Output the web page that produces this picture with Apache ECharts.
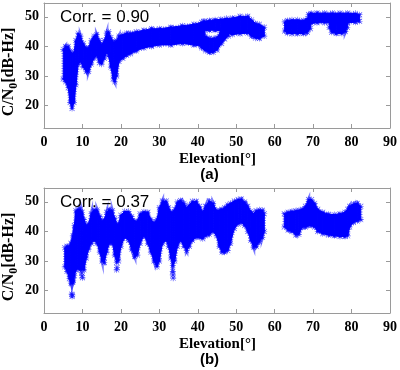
<!DOCTYPE html>
<html><head><meta charset="utf-8">
<script src="https://cdn.jsdelivr.net/npm/echarts@6/dist/echarts.min.js"></script>
<style>html,body{margin:0;padding:0;background:#fff}#c{width:400px;height:370px}</style>
</head><body><div id="c"></div>
<script>
// ---- tick labels ----
const elevTicks = [0,10,20,30,40,50,60,70,80,90];
const cn0Ticks = [20,30,40,50];
const corrA = '0.90';
const corrB = '0.37';

// ---- (a) point clouds, read as [elevation, lowest C/N0, highest C/N0] ----
const a_track1 = [[5.0,29,39],[5.6,28,40],[6.3,26,40],[6.8,21,38.5],[7.3,19,37.5],[7.8,21,38],[8.3,27,42],[8.9,34,44.5],[9.5,35,43.5],[10.2,33,41],[11.0,31.5,39.5],[11.6,31.5,39.5],[12.3,34,42],[13.0,36,43.5],[13.7,37,44],[14.4,34.5,42],[15.0,34,40.5],[15.7,36,42],[16.3,38,44.5],[16.8,37,45],[17.4,33,43],[18.0,29,41.5],[18.4,28,41.5],[18.9,30,42],[19.5,35,43.5],[20.5,36,44],[21.5,37,44.5],[22.5,37.5,44.5],[24,38.5,45],[26,39.5,45.5],[28,40,46],[30,40.5,46],[33,40.5,46.5],[36,41,47],[39,40.5,47.5],[41,40,48.2],[41.8,39.5,48.5]];
const a_track2 = [[41.5,45.2,48.5],[43,45.5,48.8],[44.5,45.5,49],[46,45.3,49.2],[47.5,44.5,49.5],[49,44,49.6],[51,44.3,50.2],[53,44.5,50.2],[54,43.5,49],[55,42.8,47.8],[56,42.7,47.5],[57.3,43.5,46.5]];
const a_track3 = [[41,39.5,44.5],[42,38.5,43.5],[43,38,42.8],[44,38,42.7],[45,38.8,43],[46.2,41,45.5],[47,42.5,46],[48,43.5,46.5]];
const a_track4 = [[62.6,45.2,48.3],[63.3,44.5,48.8],[64.5,44.3,49],[66,44.3,49],[67.5,44.4,48.8],[68.5,44.8,49.5],[69.3,46,50.8]];
const a_track5 = [[68.8,48,50.8],[69.5,47.8,51.2],[71,48,51.3],[73,48,51.3],[75,48,51.3],[77,48,51.3],[79,48,51.3],[81,48.2,51.2],[82.1,48.5,50.7]];
const a_track6 = [[74.2,46.5,48.5],[74.8,44.8,48.5],[76,44.4,48.5],[77.5,44.4,48.5],[78.4,45,48.5],[78.9,46.5,48.5]];

// ---- (b) point clouds ----
const b_track1 = [[5.4,28,34.5],[6.0,26.5,35],[6.6,24,35],[7.0,22.5,36],[7.5,23,38.5],[7.9,25,42],[8.3,27,47],[8.8,27.5,47.5],[9.4,27,47.5],[9.9,27,46.5],[10.4,27,44],[11.0,31,42],[11.6,34,42.5],[12.3,36,46],[13.0,37,47.3],[13.8,36,47.3],[14.5,33,45],[15.1,30,43.5],[15.7,29.5,44],[16.3,33,46.5],[17.0,36,47.3],[17.8,36,47],[18.4,32,44.5],[18.9,29.5,42.5],[19.4,30,42.5],[20.0,35,45.5],[21.0,38,46.8],[22.0,37,46.8],[22.8,34,45],[23.6,31.5,43.5],[24.3,32,43.5],[25.0,36,46],[26.0,38.5,46.7],[27.0,36,46.5],[27.8,33,44],[28.6,30,43],[29.4,28,44],[30.0,30,48],[30.8,36,50.3],[31.8,37,50.3],[32.4,35,48],[33.0,31,46.5],[33.5,28.5,46.5],[34.0,30,47.5],[34.7,35,50],[35.5,37,50.5],[36.4,35,49.5],[37.1,33.5,48],[37.8,35,49],[38.6,37,50.2],[39.6,38,50.2],[40.5,38,48.5],[41.3,37.5,46.5],[42.0,38.5,48.5],[43.0,39,50.3],[44.0,40,49.5],[44.9,38.5,47],[45.6,35,47.2],[46.3,33,47.5],[47.0,33,48],[47.8,33.5,49],[48.5,36,49.5],[49.5,41,50.3],[50.5,42.5,50.8],[51.3,43,51],[52.2,42,50],[53.0,40,48.5],[53.8,37,46.8],[54.5,34.7,46],[55.2,35,47],[56.0,36.5,47.3],[56.8,38,47.2],[57.3,40,46]];
const b_track2 = [[62.5,41.5,46],[63.5,40.5,46.5],[64.5,40,46.8],[65.5,38.8,47],[66.3,39,47.2],[67.2,41.5,47.5],[68.0,41.5,48.5],[68.8,42,50.8],[69.6,42,50.8],[70.4,41.5,49.5],[71.2,40,47.5],[72.5,39.2,46.5],[74.0,38.8,45.8],[75.5,38.5,45.7],[77.0,38.3,46],[78.3,38.3,46.5],[79.0,38.5,47.5],[79.5,41.5,48.5],[80.5,43,49.3],[81.5,43.5,49.5],[82.4,44,48.5]];
const b_outliers = [[7.2,18.8],[7.3,18],[7.4,18.5],[7.4,22.8],[7.6,23.5],[9.8,26],[9.9,25],[10.0,24.3],[18.9,27],[19.0,27.8],[33.5,26.5],[33.5,25.3],[33.6,24.2]];

const BLUE = '#0000ff';
const ASTER = 'path://M4.5,0h1v10h-1z M0,4.5h10v1h-10z M1.2,0.5L9.5,8.8L8.8,9.5L0.5,1.2z M8.8,0.5L9.5,1.2L1.2,9.5L0.5,8.8z';
const SERIF = '"Liberation Serif","Times New Roman",serif';
const SANS = '"Liberation Sans",Arial,sans-serif';
const AXC = '#9a9a9a';

function segs(track){
  const out = [];
  for (let i = 0; i < track.length - 1; i++) {
    out.push([track[i][0], track[i][1], track[i][2], track[i+1][0], track[i+1][1], track[i+1][2]]);
  }
  return out;
}
function renderBand(params, api){
  const pts = [
    api.coord([api.value(0), api.value(1)]),
    api.coord([api.value(0), api.value(2)]),
    api.coord([api.value(3), api.value(5)]),
    api.coord([api.value(3), api.value(4)])
  ];
  return {type:'group', children:[
    {type:'polygon', shape:{points:pts}, style:{fill:'none', stroke:'rgba(0,0,255,0.5)', lineWidth:3.5, lineDash:[1,1.5]}},
    {type:'polygon', shape:{points:pts}, style:{fill:BLUE, stroke:BLUE, lineWidth:1}}
  ]};
}
function bandSeries(track, xi, yi){
  return {type:'custom', xAxisIndex:xi, yAxisIndex:yi, renderItem:renderBand,
    data:segs(track), encode:{x:[0,3], y:[1,2,4,5]}, silent:true, z:2};
}
function edgeSeries(track, xi, yi){
  return {type:'scatter', xAxisIndex:xi, yAxisIndex:yi,
    data:track.flatMap(p => [[p[0],p[1]],[p[0],p[2]]]),
    symbol:ASTER, symbolSize:6, itemStyle:{color:BLUE, opacity:0.7}, silent:true, z:3};
}
function xAx(gi, pos, show){
  return {type:'value', gridIndex:gi, position:pos, min:elevTicks[0], max:elevTicks[elevTicks.length-1], interval:10,
    axisLine:{show:true, onZero:false, lineStyle:{color:AXC, width:1}},
    axisTick:{show:true, inside:true, length:4, lineStyle:{color:AXC}},
    axisLabel:{show:show, margin:7, color:'#000', fontFamily:SERIF, fontWeight:'bold', fontSize:14},
    splitLine:{show:false}};
}
function yAx(gi, pos, show){
  return {type:'value', gridIndex:gi, position:pos, min:12.4, max:54.7,
    axisLine:{show:true, onZero:false, lineStyle:{color:AXC, width:1}},
    axisTick:{show:true, inside:true, length:4, customValues:cn0Ticks, lineStyle:{color:AXC}},
    axisLabel:{show:show, margin:5, customValues:cn0Ticks, color:'#000', fontFamily:SERIF, fontWeight:'bold', fontSize:14},
    splitLine:{show:false}};
}
function yLabel(cy){
  return {type:'text', x:14, y:cy, rotation:Math.PI/2, z:100,
    style:{text:'{m|C/N}{s|0}{m|[dB-Hz]}', align:'center', verticalAlign:'middle',
      rich:{m:{fontFamily:SERIF, fontWeight:'bold', fontSize:16, lineHeight:16, verticalAlign:'top', fill:'#000'},
            s:{fontFamily:SERIF, fontWeight:'bold', fontSize:12, lineHeight:26, fill:'#000'}}}};
}
function txt(x, y, s, font, align){
  return {type:'text', x:x, y:y, z:100, style:{text:s, font:font, fill:'#000', align:align||'center', verticalAlign:'middle'}};
}

const chart = echarts.init(document.getElementById('c'), null, {renderer:'canvas', width:400, height:370});
const series = [];
[a_track1,a_track2,a_track3,a_track4,a_track5,a_track6].forEach(t => series.push(bandSeries(t,0,0)));
[a_track1,a_track2,a_track3,a_track4,a_track5,a_track6].forEach(t => series.push(edgeSeries(t,0,0)));
[b_track1,b_track2].forEach(t => series.push(bandSeries(t,2,2)));
[b_track1,b_track2].forEach(t => series.push(edgeSeries(t,2,2)));
series.push({type:'scatter', xAxisIndex:2, yAxisIndex:2, data:b_outliers, symbol:ASTER, symbolSize:6,
  itemStyle:{color:BLUE, opacity:0.8}, silent:true, z:3});

chart.setOption({
  animation:false,
  backgroundColor:'#fff',
  grid:[{left:44, top:3, width:347, height:125}, {left:44, top:188, width:347, height:125}],
  xAxis:[xAx(0,'bottom',true), xAx(0,'top',false), xAx(1,'bottom',true), xAx(1,'top',false)],
  yAxis:[yAx(0,'left',true), yAx(0,'right',false), yAx(1,'left',true), yAx(1,'right',false)],
  series:series,
  graphic:[
    yLabel(72), yLabel(257),
    txt(217.5, 159, 'Elevation[°]', 'bold 15px ' + SERIF),
    txt(217.5, 344, 'Elevation[°]', 'bold 15px ' + SERIF),
    txt(209.5, 175, '(a)', 'bold 15px ' + SANS),
    txt(209.5, 360, '(b)', 'bold 15px ' + SANS),
    txt(60, 17, 'Corr. = ' + corrA, '17px ' + SANS, 'left'),
    txt(60, 202, 'Corr. = ' + corrB, '17px ' + SANS, 'left')
  ]
});
</script></body></html>
